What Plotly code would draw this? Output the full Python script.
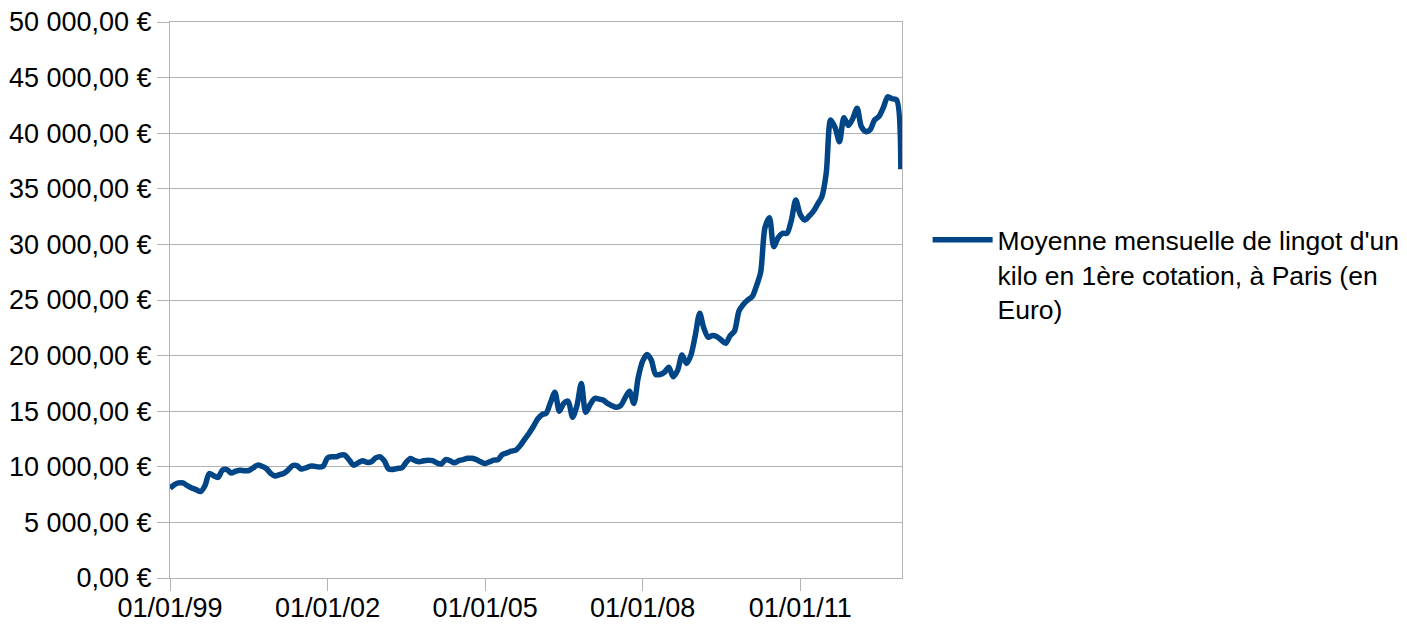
import pandas as pd
import plotly.graph_objects as go

start_month = "1999-01-01"
values = [
    8070, 8400, 8550, 8550, 8300, 8100, 7950, 7780, 8300, 9400, 9200, 9050,
    9700, 9750, 9450, 9600, 9700, 9650, 9650, 9900, 10150, 10050, 9850, 9400,
    9170, 9300, 9400, 9700, 10100, 10100, 9800, 9900, 10050, 10050, 9980, 10050,
    10800, 10900, 10900, 11050, 11050, 10600, 10150, 10350, 10550, 10400, 10450, 10800,
    10900, 10500, 9800, 9750, 9850, 9900, 10400, 10750, 10550, 10450, 10550, 10600,
    10550, 10350, 10250, 10650, 10550, 10370, 10550, 10650, 10760, 10760, 10650, 10450,
    10300, 10450, 10600, 10650, 11100, 11250, 11400, 11500, 11900, 12450, 13000, 13600,
    14300, 14700, 14810, 15800, 16700, 15000, 15700, 15900, 14450, 15500, 17500, 14900,
    15600, 16150, 16100, 16000, 15700, 15500, 15350, 15500, 16200, 16800, 15700, 18000,
    19500, 20100, 19600, 18300, 18300, 18500, 18950, 18100, 18700, 20050, 19300, 20000,
    21800, 23800, 22500, 21650, 21800, 21700, 21400, 21100, 21800, 22200, 24000, 24600,
    25000, 25300, 26200, 27500, 31500, 32400, 29800, 30600, 31000, 31000, 32200, 34000,
    32700, 32200, 32500, 32940, 33600, 34300, 36400, 41200, 40500, 39240, 41400, 40700,
    41300, 42240, 40600, 40150, 40300, 41190, 41500, 42300, 43280, 43100, 43000, 36750,
]
dates = pd.date_range(start=start_month, periods=len(values), freq="MS")

series_name = "Moyenne mensuelle de lingot d'un<br>kilo en 1ère cotation, à Paris (en<br>Euro)"

y_tickvals = [0, 5000, 10000, 15000, 20000, 25000, 30000, 35000, 40000, 45000, 50000]
y_ticktext = ["0,00 €", "5 000,00 €", "10 000,00 €", "15 000,00 €", "20 000,00 €",
              "25 000,00 €", "30 000,00 €", "35 000,00 €", "40 000,00 €",
              "45 000,00 €", "50 000,00 €"]
x_tickvals = ["1999-01-01", "2002-01-01", "2005-01-01", "2008-01-01", "2011-01-01"]
x_ticktext = ["01/01/99", "01/01/02", "01/01/05", "01/01/08", "01/01/11"]

fig = go.Figure()
fig.add_trace(go.Scatter(
    x=dates, y=values, mode="lines", name=series_name,
    line=dict(color="#004586", width=5.5, shape="spline", smoothing=0.8),
    showlegend=True,
))

FONT = "Liberation Sans, Arial, sans-serif"
fig.update_layout(
    width=1407, height=624,
    margin=dict(l=170, r=505, t=22, b=46, autoexpand=False),
    paper_bgcolor="white", plot_bgcolor="white",
    font=dict(family=FONT, size=27, color="#000000"),
    showlegend=True,
    legend=dict(
        x=1.035, y=0.651, xanchor="left", yanchor="top",
        valign="top", itemwidth=60, tracegroupgap=0,
        font=dict(family=FONT, size=26.5, color="#000000"),
        bgcolor="rgba(0,0,0,0)",
    ),
    xaxis=dict(
        type="date", range=["1999-01-01", "2012-12-09"],
        tickvals=x_tickvals, ticktext=x_ticktext,
        showgrid=False, showline=True, linecolor="#b3b3b3", linewidth=1,
        mirror=True, ticks="outside", ticklen=12, tickcolor="#b3b3b3",
        tickfont=dict(family=FONT, size=27, color="#000000"), zeroline=False,
        automargin=False, ticklabelstandoff=-6,
    ),
    yaxis=dict(
        range=[0, 50000], tickvals=y_tickvals, ticktext=y_ticktext,
        showgrid=True, gridcolor="#b3b3b3", gridwidth=1,
        showline=True, linecolor="#b3b3b3", linewidth=1, mirror=True,
        ticks="outside", ticklen=12, tickcolor="#b3b3b3",
        tickfont=dict(family=FONT, size=27, color="#000000"), zeroline=False,
        ticklabelstandoff=0, automargin=False,
    ),
)

fig.write_html("out.html")
